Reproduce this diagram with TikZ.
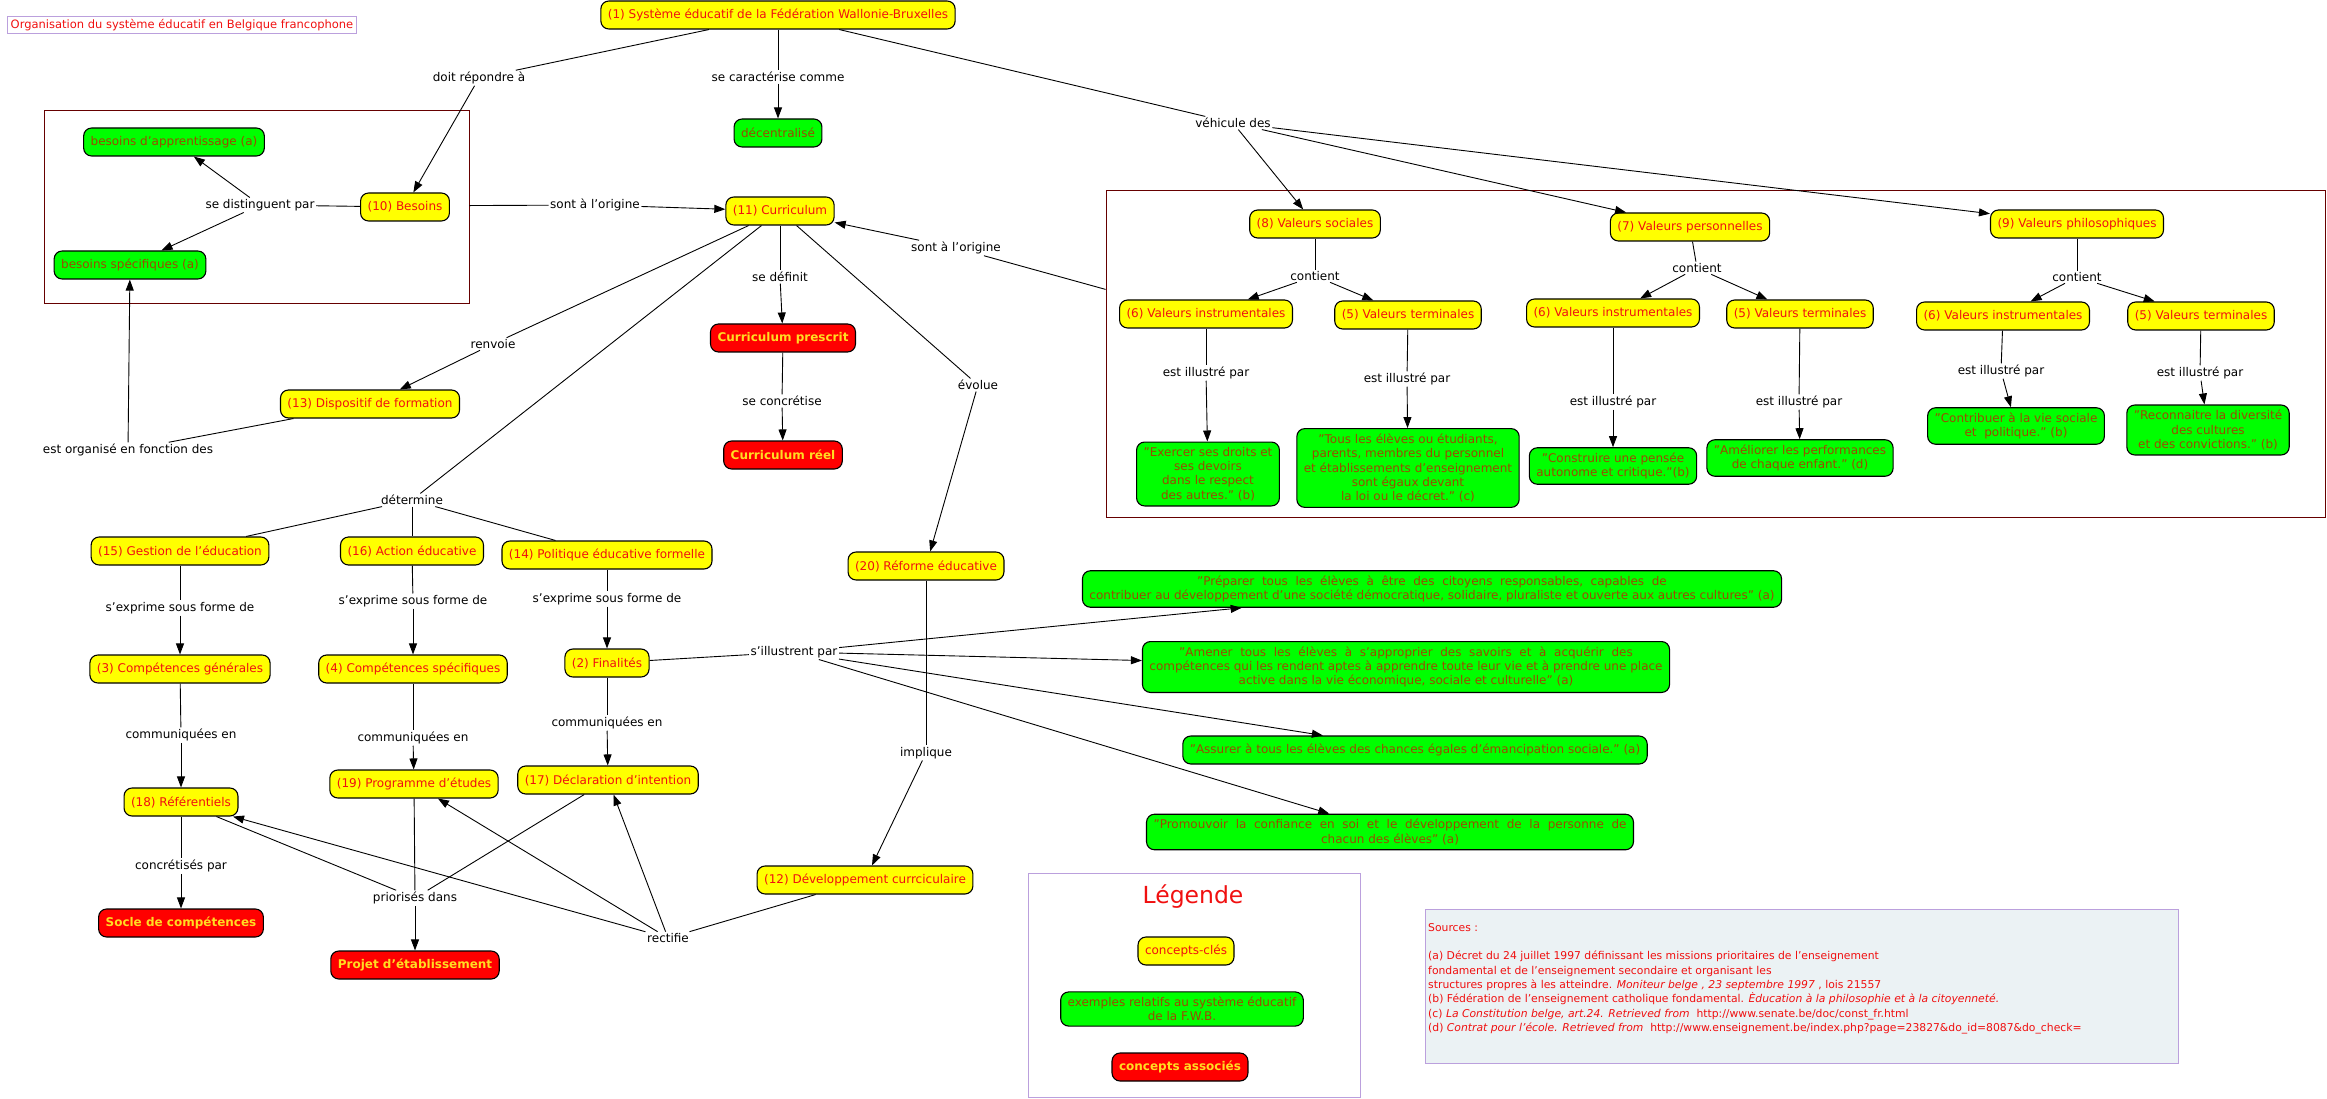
\documentclass[tikz,border=0pt]{standalone}
\usepackage{fontspec}
\setmainfont{DejaVu Sans}
\usetikzlibrary{arrows.meta}
\definecolor{cyel}{HTML}{FFFF00}
\definecolor{cgrn}{HTML}{00FF00}
\definecolor{cred}{HTML}{FF0000}
\definecolor{ctred}{HTML}{F01010}
\definecolor{ctgrn}{HTML}{9C4A00}
\definecolor{ctyel}{HTML}{FFDD22}
\definecolor{cgrp}{HTML}{660000}
\definecolor{cfrm}{HTML}{BBA0DD}
\definecolor{csrc}{HTML}{EBF2F4}
\tikzset{cpt/.style={draw=black,line width=1.1pt,rounded corners=8pt,fill=cyel,text=ctred,minimum height=28pt,inner xsep=7pt,inner ysep=5pt,align=center,font=\fontsize{12}{14.4}\selectfont},ex/.style={cpt,fill=cgrn,text=ctgrn},ass/.style={cpt,fill=cred,text=ctyel,font=\fontsize{12}{14.4}\selectfont\bfseries},lnk/.style={inner sep=1.5pt,align=center,font=\fontsize{12}{14.4}\selectfont},ln/.style={line width=0.9pt},arr/.style={ln,-{Triangle[length=11pt,width=8pt]}},grp/.style={draw=cgrp,line width=0.9pt,inner sep=0pt},frm/.style={draw=cfrm,line width=0.9pt,inner sep=0pt}}
\begin{document}
\begin{tikzpicture}[x=1pt,y=-1pt]
\useasboundingbox (0,0) rectangle (2327,1099);
\node[grp,minimum width=425,minimum height=193] (lgrp) at (256.5,206.5) {};
\node[grp,minimum width=1219,minimum height=327] (rgrp) at (1715.5,353.5) {};
\node[frm,text=ctred,inner sep=3pt,font=\fontsize{11.5}{14}\selectfont] (titre) at (182,25) {Organisation du système éducatif en Belgique francophone};
\node[cpt] (sys) at (778,15) {(1) Système éducatif de la Fédération Wallonie-Bruxelles};
\node[ex] (dec) at (778,133) {décentralisé};
\node[cpt] (bes) at (405,207) {(10) Besoins};
\node[ex] (bapp) at (174,142) {besoins d'apprentissage (a)};
\node[ex] (bspe) at (130,265) {besoins spécifiques (a)};
\node[cpt] (cur) at (780,211) {(11) Curriculum};
\node[cpt] (vsoc) at (1315,224) {(8) Valeurs sociales};
\node[cpt] (vper) at (1690,227) {(7) Valeurs personnelles};
\node[cpt] (vphi) at (2077,224) {(9) Valeurs philosophiques};
\node[cpt] (vinA) at (1206,314) {(6) Valeurs instrumentales};
\node[cpt] (vteA) at (1408,315) {(5) Valeurs terminales};
\node[cpt] (vinB) at (1613,313) {(6) Valeurs instrumentales};
\node[cpt] (vteB) at (1800,314) {(5) Valeurs terminales};
\node[cpt] (vinC) at (2003,316) {(6) Valeurs instrumentales};
\node[cpt] (vteC) at (2201,316) {(5) Valeurs terminales};
\node[ex] (exA) at (1208,474) {"Exercer ses droits et\\ses devoirs\\dans le respect\\des autres." (b)};
\node[ex] (exB) at (1408,468) {"Tous les élèves ou étudiants,\\parents, membres du personnel\\et établissements d'enseignement\\sont égaux devant\\la loi ou le décret." (c)};
\node[ex] (exC) at (1613,466) {"Construire une pensée\\autonome et critique."(b)};
\node[ex] (exD) at (1800,458) {"Améliorer les performances\\de chaque enfant." (d)};
\node[ex] (exE) at (2016,426) {"Contribuer à la vie sociale\\et~ politique." (b)};
\node[ex] (exF) at (2208,430) {"Reconnaitre la diversité\\des cultures\\et des convictions." (b)};
\node[ass] (cpre) at (783,338) {Curriculum prescrit};
\node[ass] (creel) at (783,455) {Curriculum réel};
\node[cpt] (dispo) at (370,404) {(13) Dispositif de formation};
\node[cpt] (refo) at (926,566) {(20) Réforme éducative};
\node[cpt] (gest) at (180,551) {(15) Gestion de l'éducation};
\node[cpt] (acti) at (412,551) {(16) Action éducative};
\node[cpt] (poli) at (607,555) {(14) Politique éducative formelle};
\node[cpt] (cgen) at (180,669) {(3) Compétences générales};
\node[cpt] (cspe) at (413,669) {(4) Compétences spécifiques};
\node[cpt] (fina) at (607,663) {(2) Finalités};
\node[ex] (prep) at (1432,589) {"Préparer~ tous~ les~ élèves~ à~ être~ des~ citoyens~ responsables,~ capables~ de\\contribuer au développement d'une société démocratique, solidaire, pluraliste et ouverte aux autres cultures" (a)};
\node[ex] (amen) at (1406,667) {"Amener~ tous~ les~ élèves~ à~ s'approprier~ des~ savoirs~ et~ à~ acquérir~ des\\compétences qui les rendent aptes à apprendre toute leur vie et à prendre une place\\active dans la vie économique, sociale et culturelle" (a)};
\node[ex] (assu) at (1415,750) {"Assurer à tous les élèves des chances égales d'émancipation sociale." (a)};
\node[ex] (prom) at (1390,832) {"Promouvoir~ la~ confiance~ en~ soi~ et~ le~ développement~ de~ la~ personne~ de\\chacun des élèves" (a)};
\node[cpt] (refe) at (181,802) {(18) Référentiels};
\node[cpt] (prog) at (414,784) {(19) Programme d'études};
\node[cpt] (decl) at (608,780) {(17) Déclaration d'intention};
\node[cpt] (devc) at (865,880) {(12) Développement currciculaire};
\node[ass] (socle) at (181,923) {Socle de compétences};
\node[ass] (projet) at (415,965) {Projet d'établissement};
\node[lnk] (lrep) at (479,78) {doit répondre à};
\node[lnk] (lcar) at (778,77) {se caractérise comme};
\node[lnk] (lveh) at (1233,123) {véhicule des};
\node[lnk] (ldis) at (260,205) {se distinguent par};
\node[lnk] (lori) at (595,205) {sont à l'origine};
\node[lnk] (lorib) at (956,248) {sont à l'origine};
\node[lnk] (ldef) at (780,277) {se définit};
\node[lnk] (lren) at (493,344) {renvoie};
\node[lnk] (lcon) at (782,401) {se concrétise};
\node[lnk] (levo) at (978,385) {évolue};
\node[lnk] (lorg) at (128,450) {est organisé en fonction des};
\node[lnk] (ldet) at (412,500) {détermine};
\node[lnk] (lcnA) at (1315,276) {contient};
\node[lnk] (lcnB) at (1697,268) {contient};
\node[lnk] (lcnC) at (2077,277) {contient};
\node[lnk] (lilA) at (1206,373) {est illustré par};
\node[lnk] (lilB) at (1407,379) {est illustré par};
\node[lnk] (lilC) at (1613,402) {est illustré par};
\node[lnk] (lilD) at (1799,402) {est illustré par};
\node[lnk] (lilE) at (2001,371) {est illustré par};
\node[lnk] (lilF) at (2200,373) {est illustré par};
\node[lnk] (lexA) at (180,608) {s'exprime sous forme de};
\node[lnk] (lexB) at (413,601) {s'exprime sous forme de};
\node[lnk] (lexC) at (607,599) {s'exprime sous forme de};
\node[lnk] (lill) at (794,652) {s'illustrent par};
\node[lnk] (lcoA) at (181,735) {communiquées en};
\node[lnk] (lcoB) at (413,738) {communiquées en};
\node[lnk] (lcoC) at (607,723) {communiquées en};
\node[lnk] (limp) at (926,753) {implique};
\node[lnk] (lcpa) at (181,866) {concrétisés par};
\node[lnk] (lpri) at (415,898) {priorisés dans};
\node[lnk] (lrec) at (668,938) {rectifie};
\draw[ln] (sys) -- (lrep); \draw[arr] (lrep) -- (bes); \draw[ln] (sys) -- (lcar); \draw[arr] (lcar) -- (dec);
\draw[ln] (sys) -- (lveh); \draw[arr] (lveh) -- (vsoc); \draw[arr] (lveh) -- (vper); \draw[arr] (lveh) -- (vphi);
\draw[ln] (bes) -- (ldis); \draw[arr] (ldis) -- (bapp); \draw[arr] (ldis) -- (bspe);
\draw[ln] (lgrp) -- (lori); \draw[arr] (lori) -- (cur); \draw[ln] (rgrp.174) -- (lorib); \draw[arr] (lorib) -- (cur);
\draw[ln] (cur) -- (ldef); \draw[arr] (ldef) -- (cpre); \draw[ln] (cpre) -- (lcon); \draw[arr] (lcon) -- (creel);
\draw[ln] (cur) -- (lren); \draw[arr] (lren) -- (dispo); \draw[ln] (dispo) -- (lorg); \draw[arr] (lorg) -- (bspe);
\draw[ln] (cur) -- (ldet); \draw[ln] (ldet) -- (gest); \draw[ln] (ldet) -- (acti); \draw[ln] (ldet) -- (poli);
\draw[ln] (cur) -- (levo); \draw[arr] (levo) -- (refo); \draw[ln] (refo) -- (limp); \draw[arr] (limp) -- (devc);
\draw[ln] (vsoc) -- (lcnA); \draw[arr] (lcnA) -- (vinA); \draw[arr] (lcnA) -- (vteA);
\draw[ln] (vper) -- (lcnB); \draw[arr] (lcnB) -- (vinB); \draw[arr] (lcnB) -- (vteB);
\draw[ln] (vphi) -- (lcnC); \draw[arr] (lcnC) -- (vinC); \draw[arr] (lcnC) -- (vteC);
\draw[ln] (vinA) -- (lilA); \draw[arr] (lilA) -- (exA); \draw[ln] (vteA) -- (lilB); \draw[arr] (lilB) -- (exB);
\draw[ln] (vinB) -- (lilC); \draw[arr] (lilC) -- (exC); \draw[ln] (vteB) -- (lilD); \draw[arr] (lilD) -- (exD);
\draw[ln] (vinC) -- (lilE); \draw[arr] (lilE) -- (exE); \draw[ln] (vteC) -- (lilF); \draw[arr] (lilF) -- (exF);
\draw[ln] (gest) -- (lexA); \draw[arr] (lexA) -- (cgen); \draw[ln] (acti) -- (lexB); \draw[arr] (lexB) -- (cspe); \draw[ln] (poli) -- (lexC); \draw[arr] (lexC) -- (fina);
\draw[ln] (fina) -- (lill); \draw[arr] (lill) -- (prep); \draw[arr] (lill) -- (amen); \draw[arr] (lill) -- (assu); \draw[arr] (lill) -- (prom);
\draw[ln] (cgen) -- (lcoA); \draw[arr] (lcoA) -- (refe); \draw[ln] (cspe) -- (lcoB); \draw[arr] (lcoB) -- (prog); \draw[ln] (fina) -- (lcoC); \draw[arr] (lcoC) -- (decl);
\draw[ln] (refe) -- (lcpa); \draw[arr] (lcpa) -- (socle);
\draw[ln] (refe) -- (lpri); \draw[ln] (prog) -- (lpri); \draw[ln] (decl) -- (lpri); \draw[arr] (lpri) -- (projet);
\draw[ln] (devc) -- (lrec); \draw[arr] (lrec) -- (refe); \draw[arr] (lrec) -- (prog); \draw[arr] (lrec) -- (decl);
\node[frm,minimum width=332,minimum height=224] (legende) at (1194,985) {};
\node[text=ctred,font=\fontsize{23.5}{28}\selectfont] (legtit) at (1193,897) {Légende};
\node[cpt] (legA) at (1186,951) {concepts-clés};
\node[ex] (legB) at (1182,1009) {exemples relatifs au système éducatif\\de la F.W.B.};
\node[ass] (legC) at (1180,1067) {concepts associés};
\node[frm,fill=csrc,minimum width=753,minimum height=154] (sources) at (1801.5,986) {};
\node[anchor=north west,text=ctred,align=left,inner sep=0pt,font=\fontsize{10.8}{14.3}\selectfont] (srctxt) at (1428,923) {Sources :\\[14.3pt]
(a) Décret du 24 juillet 1997 définissant les missions prioritaires de l'enseignement\\
fondamental et de l'enseignement secondaire et organisant les\\
structures propres à les atteindre. \textit{Moniteur belge , 23 septembre 1997} , lois 21557\\
(b) Fédération de l'enseignement catholique fondamental. \textit{Èducation à la philosophie et à la citoyenneté.}\\
(c) \textit{La Constitution belge, art.24. Retrieved from}~ http://www.senate.be/doc/const\_fr.html\\
(d) \textit{Contrat pour l'école. Retrieved from}~ http://www.enseignement.be/index.php?page=23827\&do\_id=8087\&do\_check=};
\end{tikzpicture}
\end{document}
